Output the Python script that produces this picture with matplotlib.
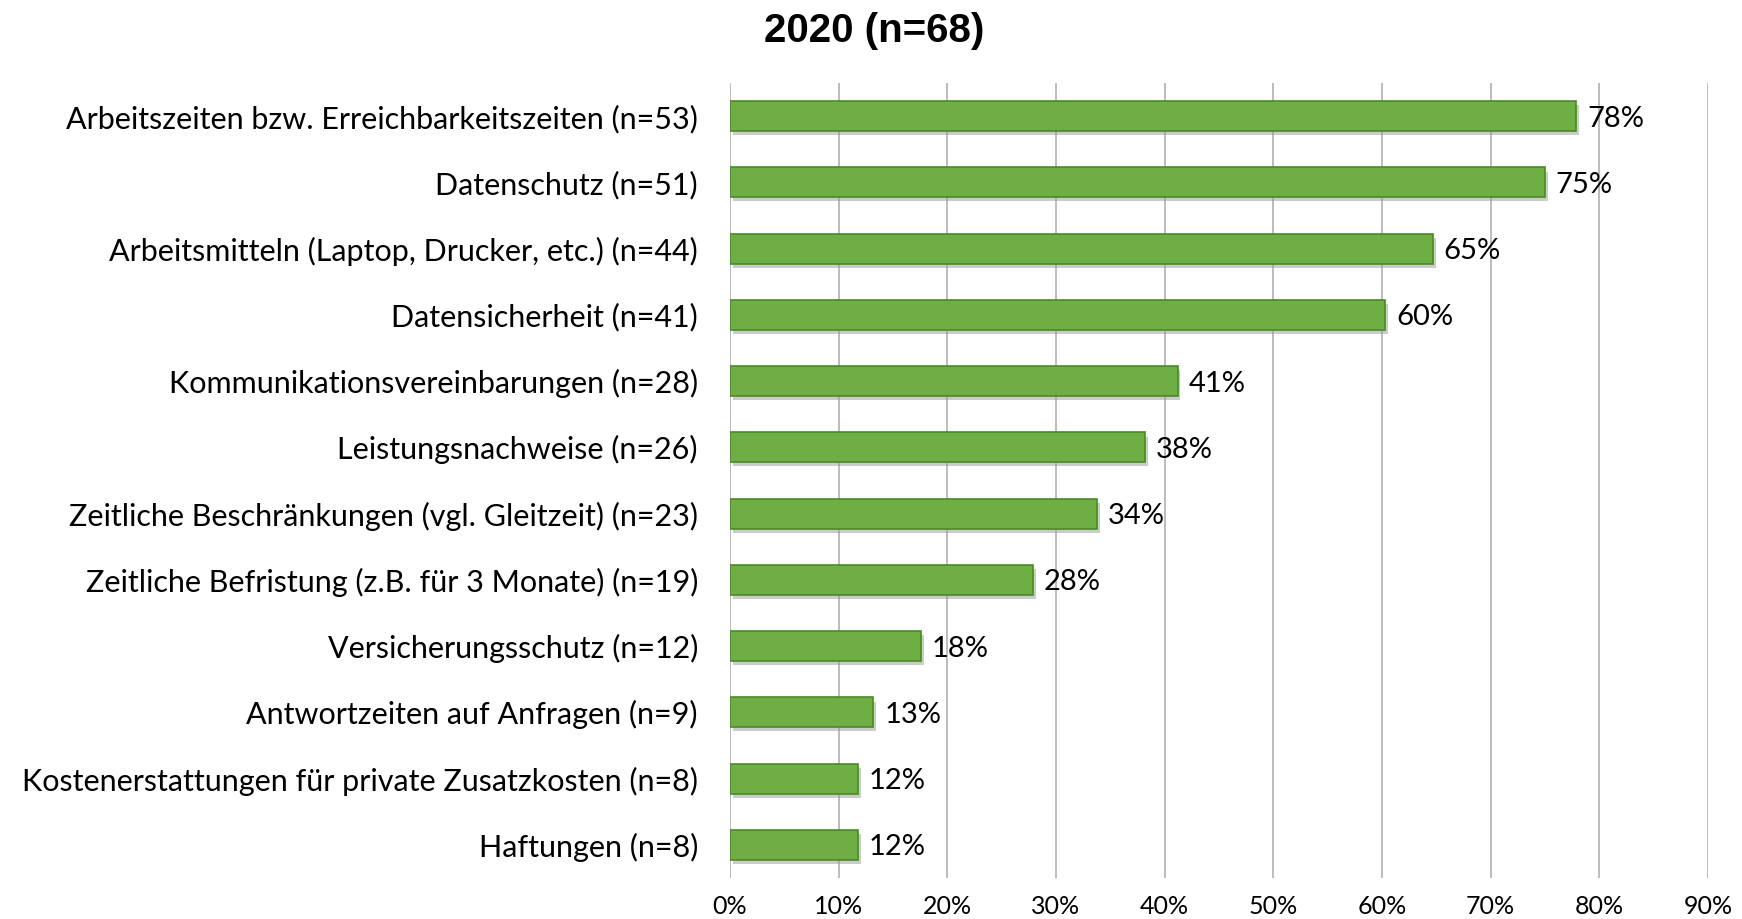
import matplotlib
matplotlib.use("Agg")
import matplotlib.pyplot as plt
import matplotlib.patheffects as pe
import numpy as np

# values (share of n=68, in %)
categories = [
    "Arbeitszeiten bzw. Erreichbarkeitszeiten (n=53)",
    "Datenschutz (n=51)",
    "Arbeitsmitteln (Laptop, Drucker, etc.) (n=44)",
    "Datensicherheit (n=41)",
    "Kommunikationsvereinbarungen (n=28)",
    "Leistungsnachweise (n=26)",
    "Zeitliche Beschränkungen (vgl. Gleitzeit) (n=23)",
    "Zeitliche Befristung (z.B. für 3 Monate) (n=19)",
    "Versicherungsschutz (n=12)",
    "Antwortzeiten auf Anfragen (n=9)",
    "Kostenerstattungen für private Zusatzkosten (n=8)",
    "Haftungen (n=8)",
]
values = [77.9, 75.0, 64.7, 60.3, 41.2, 38.2, 33.8, 27.9, 17.6, 13.2, 11.8, 11.8]
value_labels = ["78%", "75%", "65%", "60%", "41%", "38%", "34%", "28%",
                "18%", "13%", "12%", "12%"]
xticks = [0, 10, 20, 30, 40, 50, 60, 70, 80, 90]

font = ["Lato", "DejaVu Sans"]

fig = plt.figure(figsize=(17.42, 9.19), dpi=100)
ax = fig.add_axes([0.419, 0.0446, 0.5614, 0.8651])

y = np.arange(len(categories))
bars = ax.barh(y, values, height=0.45, color="#6fae45",
               edgecolor="#4a8a28", linewidth=1.2, zorder=3)
for b in bars:
    b.set_path_effects([
        pe.SimplePatchShadow(offset=(2, -3), shadow_rgbFace="#999999", alpha=0.5),
        pe.Normal(),
    ])

for yi, v, lab in zip(y, values, value_labels):
    ax.text(v + 1.0, yi, lab, va="center_baseline", ha="left", fontsize=21,
            family=font, color="black")

ax.set_xlim(0, 90)
ax.set_ylim(len(categories) - 0.5, -0.5)
ax.set_yticks(y)
ax.set_yticklabels(categories, fontsize=22, family=font)
ax.set_xticks(xticks)
ax.set_xticklabels([f"{t}%" for t in xticks], fontsize=18, family=font)
ax.tick_params(axis="y", length=0, pad=23)
ax.tick_params(axis="x", length=0, pad=12)
ax.grid(axis="x", color="#b0b0b0", linewidth=1.2, zorder=0)
for s in ax.spines.values():
    s.set_visible(False)

fig.text(0.502, 0.966, "2020 (n=68)", ha="center", va="center",
         fontsize=29, fontweight="bold", family=["Liberation Sans", "DejaVu Sans"])

fig.savefig("out.png", dpi=100)
